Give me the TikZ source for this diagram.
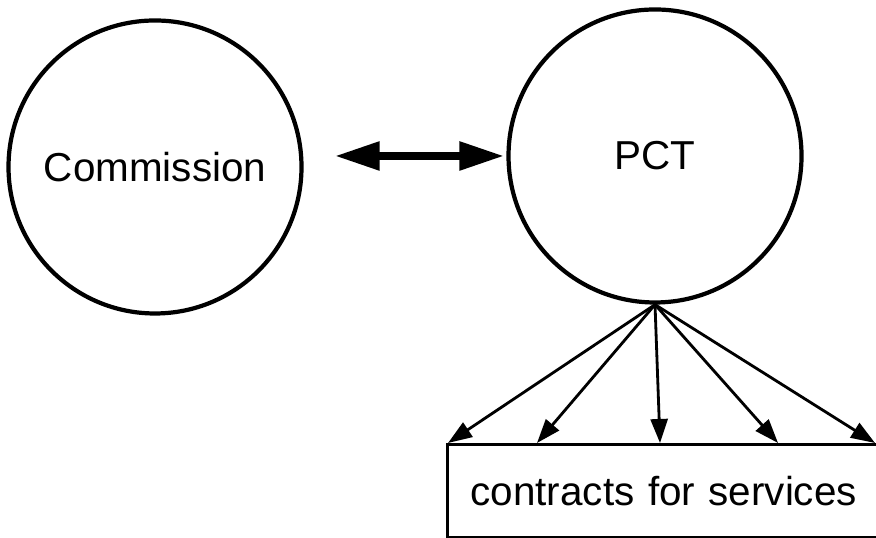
\documentclass[tikz,border=0pt]{standalone}
\usepackage{fontspec}
\setmainfont{Liberation Sans}
\usepackage{tikz}
\usetikzlibrary{arrows.meta}

\begin{document}
\begin{tikzpicture}[thick,
    party/.style={circle, draw, line width=1.2pt, minimum size=2.93cm, inner sep=0pt, font=\fontsize{11.5}{14}\selectfont},
    link/.style={{Triangle[length=0.45cm,width=0.27cm]}-{Triangle[length=0.45cm,width=0.27cm]}, line width=2.4pt},
    fan/.style={-{Triangle[length=0.24cm,width=0.17cm]}, line width=0.8pt}]
      \useasboundingbox (0,0) rectangle (8.76,5.38);
      \node[party] (comm) at (1.55,3.71) {Commission};
      \node[party] (pct) at (6.55,3.82) {PCT};
      \node[draw, line width=0.9pt, anchor=north west, minimum width=4.6cm, minimum height=0.93cm,
            text width=4.3cm, inner xsep=0.23cm, align=left, font=\fontsize{11.5}{14}\selectfont]
            (svc) at (4.46,0.95) {contracts for services};
      \draw[link, shorten <=0.31cm, shorten >=0.02cm] (comm.east |- pct.west) -- (pct.west);
      %\draw[fan] (pct.south) -- (svc.north);
      \foreach \dx in {0.02,0.91,2.14,3.32,4.29}
        \draw[fan] (pct.south) -- ([xshift=\dx cm]svc.north west);
\end{tikzpicture}
\end{document}
